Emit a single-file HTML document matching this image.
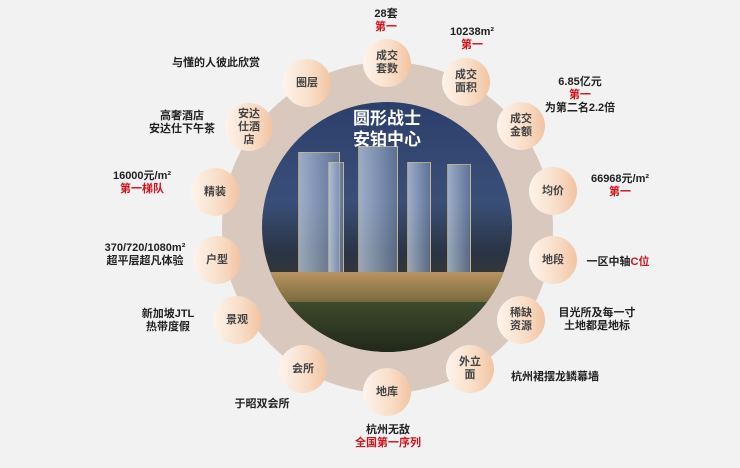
<!DOCTYPE html>
<html><head><meta charset="utf-8"><style>
*{margin:0;padding:0;box-sizing:border-box}
body{width:740px;height:468px;background:#f2f2f2;position:relative;overflow:hidden;font-family:"Liberation Sans","Noto Sans CJK SC",sans-serif}
.ring{position:absolute;left:222px;top:62px;width:331px;height:331px;border-radius:50%;background:#d9c8be}
.photo{position:absolute;left:262px;top:102px;width:250px;height:250px;border-radius:50%;overflow:hidden;background:linear-gradient(#2c3f6b 0%,#3a4f78 40%,#2a3444 60%,#3b3a2a 80%,#2a2a1e 100%)}
.c{position:absolute;width:48px;height:48px;border-radius:50%;background:linear-gradient(90deg,#fdf4ec 0%,#f8dcc6 60%,#f2c3a2 100%);display:flex;align-items:center;justify-content:center;text-align:center;font-size:11px;line-height:13px;color:#444;font-weight:bold}
.t{position:absolute;font-size:11px;line-height:13px;font-weight:bold;color:#222;text-align:center;transform:translateX(-50%);white-space:nowrap}
.r{color:#d0121b}
.title{position:absolute;left:0;width:250px;top:6px;text-align:center;color:#fff;font-weight:bold;font-size:17px;line-height:21px}
.b{position:absolute;background:linear-gradient(90deg,rgba(200,215,235,.7),rgba(120,140,175,.6));border:1px solid rgba(220,190,120,.6)}
</style></head><body>
<div class="ring"></div>
<div class="photo">
 <div class="b" style="left:36px;top:50px;width:42px;height:160px"></div>
 <div class="b" style="left:66px;top:60px;width:16px;height:140px"></div>
 <div class="b" style="left:96px;top:44px;width:40px;height:170px"></div>
 <div class="b" style="left:145px;top:60px;width:24px;height:140px"></div>
 <div class="b" style="left:185px;top:62px;width:24px;height:130px"></div>
 <div style="position:absolute;left:0;top:170px;width:250px;height:30px;background:linear-gradient(#b89560,#7a6a40)"></div>
 <div style="position:absolute;left:0;top:200px;width:250px;height:50px;background:linear-gradient(#3d4a2c,#22281a)"></div>
 <div class="title">圆形战士<br>安铂中心</div>
</div>
<div class="c" style="left:363px;top:39px">成交<br>套数</div>
<div class="c" style="left:442px;top:58px">成交<br>面积</div>
<div class="c" style="left:497px;top:102px">成交<br>金额</div>
<div class="c" style="left:529px;top:167px">均价</div>
<div class="c" style="left:529px;top:236px">地段</div>
<div class="c" style="left:497px;top:296px">稀缺<br>资源</div>
<div class="c" style="left:446px;top:345px">外立<br>面</div>
<div class="c" style="left:363px;top:368px">地库</div>
<div class="c" style="left:279px;top:345px">会所</div>
<div class="c" style="left:213px;top:296px">景观</div>
<div class="c" style="left:193px;top:236px">户型</div>
<div class="c" style="left:191px;top:168px">精装</div>
<div class="c" style="left:225px;top:103px">安达<br>仕酒<br>店</div>
<div class="c" style="left:283px;top:59px">圈层</div>

<div class="t" style="left:386px;top:8px">28套<br><span class="r">第一</span></div>
<div class="t" style="left:472px;top:26px">10238m²<br><span class="r">第一</span></div>
<div class="t" style="left:580px;top:76px">6.85亿元<br><span class="r">第一</span><br>为第二名2.2倍</div>
<div class="t" style="left:620px;top:173px">66968元/m²<br><span class="r">第一</span></div>
<div class="t" style="left:618px;top:256px">一区中轴<span class="r">C位</span></div>
<div class="t" style="left:597px;top:307px">目光所及每一寸<br>土地都是地标</div>
<div class="t" style="left:555px;top:371px">杭州裙摆龙鳞幕墙</div>
<div class="t" style="left:388px;top:424px">杭州无敌<br><span class="r">全国第一序列</span></div>
<div class="t" style="left:262px;top:398px">于昭双会所</div>
<div class="t" style="left:168px;top:308px">新加坡JTL<br>热带度假</div>
<div class="t" style="left:145px;top:242px">370/720/1080m²<br>超平层超凡体验</div>
<div class="t" style="left:142px;top:170px">16000元/m²<br><span class="r">第一梯队</span></div>
<div class="t" style="left:182px;top:110px">高奢酒店<br>安达仕下午茶</div>
<div class="t" style="left:216px;top:57px">与懂的人彼此欣赏</div>
</body></html>
